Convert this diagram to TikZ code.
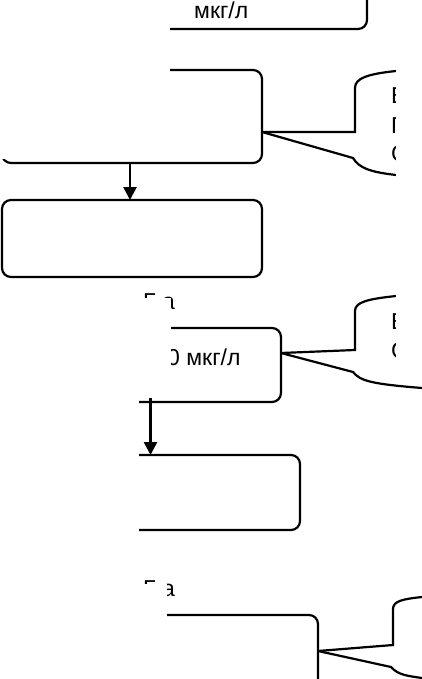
\documentclass[tikz,border=0pt]{standalone}
\usepackage{fontspec}
\setmainfont{Liberation Sans}
\usetikzlibrary{arrows.meta, positioning}

\begin{document}
\begin{tikzpicture}[
			x=1pt, y=-1pt,
			every node/.style={font=\fontsize{23}{27}\selectfont},
			box/.style={
				rectangle,
				rounded corners=9pt,
				line width=2.2pt,
				inner sep=0pt,
				outer sep=0pt,
				draw=black
			},
			txt/.style={anchor=base west, inner sep=0pt},
			arrow/.style={line width=2.6pt, -{Triangle[length=13pt, width=13pt]}},
			callout/.style={line width=2.2pt},
			mask/.style={fill=white, draw=none}
			]
			\useasboundingbox (0,0) rectangle (422,679);
			
			% Nodes
			\node (box1) [box, minimum width=365pt, minimum height=79pt] at (184.5,-10.5) {};
			\node (box2) [box, minimum width=260pt, minimum height=93pt] at (132,116.5) {};
			\node (box3) [box, minimum width=260pt, minimum height=77pt, below=37pt of box2] {};
			\node (box4) [box, minimum width=261pt, minimum height=74pt] at (150.5,365) {};
			\node (box5) [box, minimum width=280pt, minimum height=75pt, below=53pt of box4.south west, anchor=north west] {};
			\node (box6) [box, minimum width=298pt, minimum height=75pt] at (169,652.5) {};
			
			\node (unit1) [txt] at (194,18.5) {мкг/л};
			\node (unit4) [txt] at (167,365) {0 мкг/л};
			\node (frag1) [txt] at (143,309) {Г а};
			\node (frag2) [txt] at (143,596.5) {Г а};
			
			\node (note1a) [txt] at (391,104) {Е};
			\node (note1b) [txt] at (391,134) {П};
			\node (note1c) [txt] at (391,161) {С};
			\node (note2a) [txt] at (391,329) {Е};
			\node (note2b) [txt] at (391,358) {С};
			
			% Arrows
			\draw [arrow] ([xshift=-2pt]box2.south) -- ([xshift=-2pt]box3.north);
			\draw [arrow] ([yshift=4pt]box4.south) -- (box4.south |- box5.north);
			
			% Callouts
			\coordinate (tip1) at (box2.east |- 0,132);
			\coordinate (tip2) at (box4.east |- 0,353);
			\coordinate (tip3) at (box6.east |- 0,651);
			\draw [callout] (tip1) -- (355,132) -- (355,88) .. controls (355,78) and (368,74) .. (396,71);
			\draw [callout] (tip1) -- (353,158) .. controls (359,168) and (370,172) .. (396,175);
			\draw [callout] (tip2) -- (355,350) -- (355,311) .. controls (355,302) and (368,299) .. (396,296);
			\draw [callout] (tip2) -- (353,372) .. controls (360,381) and (372,384) .. (422,388);
			\draw [callout] (tip3) -- (393,645) -- (393,609) .. controls (393,601) and (403,599) .. (422,597);
			\draw [callout] (tip3) -- (391,667) .. controls (398,675) and (408,676) .. (422,678);
			
			% Masked parts
			\fill [mask] (-1,-1) rectangle (170,159);
			\fill [mask] (-1,297.5) rectangle (171,398);
			\fill [mask] (-1,398) rectangle (139,584);
			\fill [mask] (-1,584) rectangle (167,680);
			\fill [mask] (396,-1) rectangle (423,382);
			
		\end{tikzpicture}
\end{document}
